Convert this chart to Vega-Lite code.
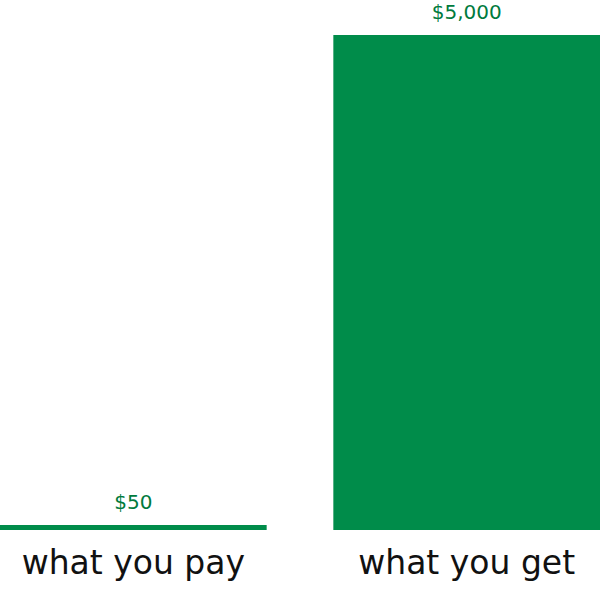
{
  "$schema": "https://vega.github.io/schema/vega-lite/v6.json",
  "width": 600,
  "height": 530,
  "autosize": "none",
  "padding": {"left": 0, "right": 0, "top": 0, "bottom": 59},
  "background": "white",
  "config": {"view": {"stroke": null}},
  "data": {"values": [
    {"item": "what you pay", "amount": 50, "label": "$50"},
    {"item": "what you get", "amount": 5000, "label": "$5,000"}
  ]},
  "encoding": {
    "x": {"field": "item", "type": "nominal", "sort": null,
      "scale": {"paddingInner": 0.2, "paddingOuter": 0},
      "axis": {"title": null, "domain": false, "ticks": false, "labelAngle": 0,
        "labelFontSize": 33, "labelFont": "DejaVu Sans", "labelColor": "#111111",
        "labelPadding": 17, "labelLimit": 0}},
    "y": {"field": "amount", "type": "quantitative",
      "scale": {"domain": [0, 5354], "nice": false},
      "axis": null}
  },
  "layer": [
    {"mark": {"type": "bar", "color": "#008C4A"}},
    {"mark": {"type": "text", "dy": -22, "fontSize": 20, "font": "DejaVu Sans", "color": "#007a3d"},
     "encoding": {"text": {"field": "label"}}}
  ]
}
